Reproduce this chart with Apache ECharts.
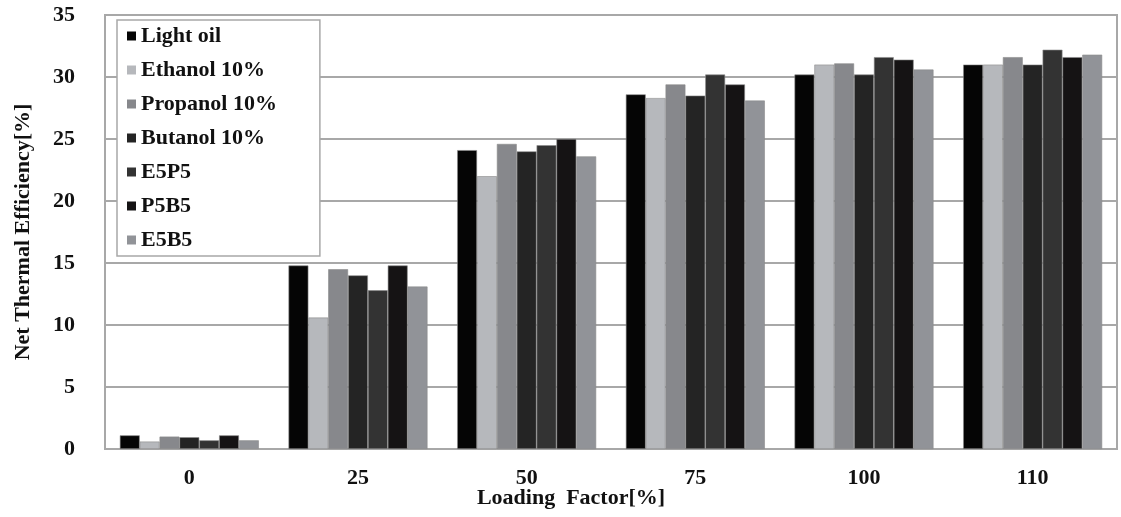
<!DOCTYPE html>
<html>
<head>
<meta charset="utf-8">
<script src="https://cdn.jsdelivr.net/npm/echarts@6/dist/echarts.min.js"></script>
<style>
  html, body { margin: 0; padding: 0; background: #fff; }
  #chart { width: 1121px; height: 517px; }
</style>
</head>
<body>
<div id="chart"></div>
<script>
// loading factor groups
const categories = ['0', '25', '50', '75', '100', '110'];
const seriesNames = ['Light oil', 'Ethanol 10%', 'Propanol 10%', 'Butanol 10%', 'E5P5', 'P5B5', 'E5B5'];
const seriesColors = ['#050505', '#b6b8bc', '#87888c', '#242424', '#333333', '#151314', '#919398'];

const lightOil = [1.1, 14.8, 24.1, 28.6, 30.2, 31.0];
const ethanol  = [0.6, 10.6, 22.0, 28.3, 31.0, 31.0];
const propanol = [1.0, 14.5, 24.6, 29.4, 31.1, 31.6];
const butanol  = [0.95, 14.0, 24.0, 28.5, 30.2, 31.0];
const e5p5     = [0.7, 12.8, 24.5, 30.2, 31.6, 32.2];
const p5b5     = [1.1, 14.8, 25.0, 29.4, 31.4, 31.6];
const e5b5     = [0.7, 13.1, 23.6, 28.1, 30.6, 31.8];
const seriesValues = [lightOil, ethanol, propanol, butanol, e5p5, p5b5, e5b5];

const serif = "'Liberation Serif', 'Times New Roman', serif";

const chart = echarts.init(document.getElementById('chart'));
chart.setOption({
  backgroundColor: '#fff',
  animation: false,
  grid: {
    left: 105, right: 4, top: 15, bottom: 68,
    containLabel: false,
    outerBoundsMode: 'none',
    show: true,
    borderColor: '#a8a8a8',
    borderWidth: 2
  },
  legend: {
    orient: 'vertical',
    left: 117,
    top: 20,
    padding: [5, 43, 5, 10],
    itemGap: 12,
    itemWidth: 9,
    itemHeight: 9,
    icon: 'rect',
    itemStyle: { borderWidth: 0 },
    backgroundColor: '#fff',
    borderColor: '#a8a8a8',
    borderWidth: 1.5,
    textStyle: {
      fontFamily: serif,
      fontWeight: 'bold',
      fontSize: 22,
      color: '#111'
    },
    data: seriesNames
  },
  xAxis: {
    type: 'category',
    data: categories,
    name: 'Loading  Factor[%]',
    nameLocation: 'middle',
    nameGap: 38,
    nameMoveOverlap: false,
    nameTextStyle: {
      fontFamily: serif,
      fontWeight: 'bold',
      fontSize: 22,
      color: '#111',
      padding: [0, 80, 0, 0]
    },
    axisLine: { lineStyle: { color: '#a8a8a8', width: 2 } },
    axisTick: { show: false },
    axisLabel: {
      margin: 18,
      fontFamily: serif,
      fontWeight: 'bold',
      fontSize: 22,
      color: '#111'
    }
  },
  yAxis: {
    type: 'value',
    min: 0,
    max: 35,
    interval: 5,
    name: 'Net Thermal Efficiency[%]',
    nameLocation: 'middle',
    nameGap: 71,
    nameTextStyle: {
      fontFamily: serif,
      fontWeight: 'bold',
      fontSize: 22,
      color: '#111'
    },
    axisLine: { show: true, lineStyle: { color: '#a8a8a8', width: 2 } },
    axisTick: { show: false },
    axisLabel: {
      margin: 30,
      fontFamily: serif,
      fontWeight: 'bold',
      fontSize: 22,
      color: '#111'
    },
    splitLine: { lineStyle: { color: '#a8a8a8', width: 2 } }
  },
  series: seriesNames.map((name, i) => ({
    name: name,
    type: 'bar',
    data: seriesValues[i],
    barGap: '0%',
    barCategoryGap: '17.6%',
    itemStyle: {
      color: seriesColors[i],
      borderColor: '#8c8c8c',
      borderWidth: 0.6
    }
  }))
});
</script>
</body>
</html>
